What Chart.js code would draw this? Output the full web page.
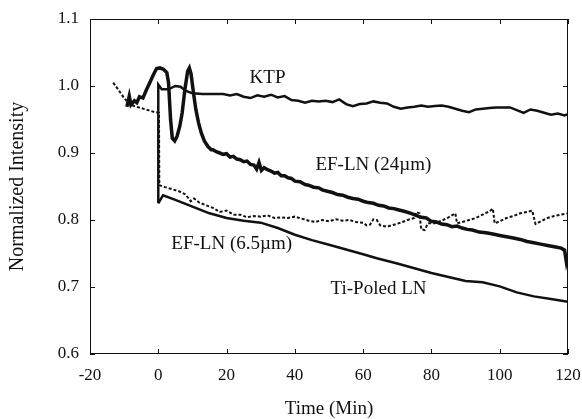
<!DOCTYPE html>
<html>
<head>
<meta charset="utf-8">
<script src="https://cdn.jsdelivr.net/npm/chart.js@4/dist/chart.umd.min.js"></script>
<style>
html,body{margin:0;padding:0;background:#fff;}
#wrap{width:582px;height:419px;position:relative;}
</style>
</head>
<body>
<div id="wrap"><canvas id="c"></canvas></div>
<script>
// ---- Data ----
const xTicks = [-20, 0, 20, 40, 60, 80, 100, 120];
const yTicks = [0.6, 0.7, 0.8, 0.9, 1.0, 1.1];

const ktpX = [0, 0, 1, 3, 5, 6.5, 8, 10, 13, 16, 19, 21, 23, 25, 27, 29, 31, 33, 35, 37, 39, 41, 43, 45, 47, 49, 51, 53, 55, 57, 59, 61, 63, 65, 67, 69, 71, 73, 75, 77, 79, 81, 83, 85, 87, 89, 91, 93, 95, 97, 99, 101, 103, 105, 107, 109, 111, 113, 115, 117, 119, 120];
const ktpY = [0.825, 1.002, 0.995, 0.995, 1.000, 0.999, 0.993, 0.989, 0.988, 0.988, 0.988, 0.986, 0.988, 0.984, 0.982, 0.986, 0.984, 0.987, 0.983, 0.985, 0.979, 0.978, 0.975, 0.978, 0.977, 0.978, 0.976, 0.980, 0.973, 0.970, 0.973, 0.974, 0.977, 0.975, 0.974, 0.969, 0.966, 0.968, 0.969, 0.971, 0.969, 0.970, 0.971, 0.969, 0.966, 0.963, 0.961, 0.965, 0.966, 0.967, 0.968, 0.968, 0.968, 0.964, 0.960, 0.965, 0.963, 0.960, 0.957, 0.959, 0.956, 0.958];

const ef24X = [-9.2, -8.5, -8, -7, -6.3, -5.5, -4.5, -3.5, -2.5, -1.5, -0.5, 0.5, 1.5, 2.5, 3, 3.6, 4.1, 4.8, 5.5, 6.3, 7, 7.8, 8.6, 9.1, 9.6, 10.3, 11, 11.8, 12.6, 13.5, 14.5, 15.5, 16, 17, 18, 19, 20, 21, 22, 23, 24, 25, 26, 27, 28, 28.8, 29.5, 30.2, 31, 32, 33, 34, 35, 36, 37, 38, 39, 40, 41.5, 43, 44, 45.5, 47, 48, 49.5, 51, 52.5, 54, 55.5, 57, 58.5, 60, 61.5, 63, 64.5, 66, 67.5, 69, 70.5, 72, 74, 75.5, 77, 78.5, 80, 81.5, 83, 84.5, 86, 87.5, 89, 90.5, 92, 94, 96, 98, 100, 102, 104, 106, 108, 110, 112, 114, 116, 118, 119, 119.5, 120];
const ef24Y = [0.969, 0.985, 0.972, 0.978, 0.975, 0.984, 0.982, 0.994, 1.005, 1.016, 1.026, 1.027, 1.025, 1.020, 1.005, 0.950, 0.922, 0.918, 0.925, 0.940, 0.960, 0.995, 1.022, 1.027, 1.018, 0.990, 0.965, 0.945, 0.930, 0.918, 0.910, 0.905, 0.905, 0.902, 0.900, 0.898, 0.899, 0.894, 0.895, 0.891, 0.890, 0.887, 0.888, 0.883, 0.882, 0.876, 0.886, 0.874, 0.878, 0.875, 0.873, 0.870, 0.871, 0.866, 0.866, 0.863, 0.862, 0.858, 0.857, 0.853, 0.852, 0.849, 0.848, 0.845, 0.843, 0.841, 0.838, 0.837, 0.834, 0.832, 0.831, 0.828, 0.826, 0.825, 0.822, 0.821, 0.818, 0.817, 0.815, 0.813, 0.810, 0.807, 0.804, 0.803, 0.798, 0.797, 0.794, 0.793, 0.790, 0.791, 0.788, 0.786, 0.785, 0.782, 0.781, 0.779, 0.777, 0.775, 0.773, 0.771, 0.768, 0.766, 0.764, 0.762, 0.760, 0.758, 0.755, 0.738, 0.750];

const ef65X = [-13.2, -11.5, -10, -8.5, -7, -5, -3, -1, 0.2, 0.3, 2, 4, 6, 8, 9.5, 10.5, 12, 14, 16, 18, 20, 22, 24, 26, 28, 30, 32, 34, 36, 38, 40, 42, 44, 46, 48, 50, 52, 54, 56, 58, 60, 61, 62, 63, 64, 65, 67, 69, 71, 73, 75, 75.5, 76.5, 77, 78, 79, 81, 83, 85, 87, 87.5, 89, 91, 93, 95, 97, 98, 98.5, 100, 102, 104, 106, 108, 109.5, 110.5, 112, 114, 116, 118, 120];
const ef65Y = [1.005, 0.993, 0.982, 0.973, 0.970, 0.967, 0.964, 0.961, 0.960, 0.852, 0.849, 0.846, 0.843, 0.838, 0.828, 0.832, 0.826, 0.822, 0.818, 0.812, 0.814, 0.808, 0.808, 0.804, 0.806, 0.805, 0.807, 0.803, 0.804, 0.803, 0.805, 0.802, 0.799, 0.797, 0.800, 0.798, 0.801, 0.799, 0.800, 0.797, 0.796, 0.792, 0.793, 0.801, 0.800, 0.792, 0.790, 0.793, 0.796, 0.800, 0.803, 0.812, 0.810, 0.786, 0.785, 0.795, 0.795, 0.799, 0.804, 0.810, 0.795, 0.797, 0.800, 0.803, 0.808, 0.813, 0.817, 0.795, 0.798, 0.803, 0.806, 0.810, 0.812, 0.814, 0.794, 0.798, 0.803, 0.806, 0.808, 0.810];

const tiX = [0, 1.4, 5, 10, 15, 20, 25, 30, 35, 40, 45, 50, 55, 60, 64, 70, 75, 80, 85, 90, 95, 100, 105, 110, 115, 120];
const tiY = [0.825, 0.837, 0.830, 0.820, 0.810, 0.803, 0.799, 0.796, 0.788, 0.778, 0.770, 0.763, 0.756, 0.749, 0.743, 0.735, 0.728, 0.721, 0.715, 0.709, 0.707, 0.701, 0.692, 0.686, 0.682, 0.678];

const labels = ["KTP", "EF-LN (24\u00b5m)", "EF-LN (6.5\u00b5m)", "Ti-Poled LN"];
const labelPosX = [32, 63, 21.5, 64.5];
const labelPosY = [1.012, 0.882, 0.764, 0.697];

// ---- Build chart ----
const pts = (xs, ys) => xs.map((x, i) => ({x: x, y: ys[i]}));
const FONT = "'Liberation Serif', 'Times New Roman', serif";

const framePlugin = {
  id: 'frame',
  afterDatasetsDraw(chart) {
    const {ctx, chartArea: a, scales: {x, y}} = chart;
    ctx.save();
    ctx.strokeStyle = '#111';
    ctx.lineWidth = 1;
    ctx.strokeRect(a.left + 0.5, a.top + 0.5, a.right - a.left - 1, a.bottom - a.top - 1);
    ctx.beginPath();
    const L = 5;
    xTicks.forEach(v => {
      const px = Math.round(x.getPixelForValue(v)) + 0.5;
      ctx.moveTo(px, a.bottom); ctx.lineTo(px, a.bottom - L);
      ctx.moveTo(px, a.top); ctx.lineTo(px, a.top + L);
    });
    yTicks.forEach(v => {
      const py = Math.round(y.getPixelForValue(v)) + 0.5;
      ctx.moveTo(a.left, py); ctx.lineTo(a.left + L, py);
      ctx.moveTo(a.right, py); ctx.lineTo(a.right - L, py);
    });
    ctx.stroke();
    ctx.fillStyle = '#111';
    ctx.font = "19px " + FONT;
    ctx.textAlign = 'center';
    ctx.textBaseline = 'middle';
    labels.forEach((t, i) => {
      ctx.fillText(t, x.getPixelForValue(labelPosX[i]), y.getPixelForValue(labelPosY[i]));
    });
    ctx.restore();
  }
};

const common = {pointRadius: 0, tension: 0, borderColor: '#111', fill: false};

new Chart(document.getElementById('c'), {
  type: 'line',
  data: {
    datasets: [
      Object.assign({label: 'KTP', data: pts(ktpX, ktpY), borderWidth: 2.5}, common),
      Object.assign({label: 'EF-LN (24um)', data: pts(ef24X, ef24Y), borderWidth: 3.5}, common),
      Object.assign({label: 'EF-LN (6.5um)', data: pts(ef65X, ef65Y), borderWidth: 2, borderDash: [3, 2]}, common),
      Object.assign({label: 'Ti-Poled LN', data: pts(tiX, tiY), borderWidth: 2.5}, common)
    ]
  },
  options: {
    responsive: true,
    maintainAspectRatio: false,
    animation: false,
    layout: {padding: {top: 19, right: 14, left: 0, bottom: 0}},
    plugins: {legend: {display: false}, tooltip: {enabled: false}},
    scales: {
      x: {
        type: 'linear', min: -20, max: 120,
        afterBuildTicks: s => { s.ticks = xTicks.map(v => ({value: v})); },
        afterFit: s => { s.height = 65; s.paddingLeft = 0; s.paddingRight = 0; },
        grid: {display: false, drawTicks: false},
        border: {display: false},
        ticks: {padding: 11, color: '#111', font: {family: FONT, size: 17}, maxRotation: 0, autoSkip: false},
        title: {display: true, text: 'Time (Min)', color: '#111', font: {family: FONT, size: 19, lineHeight: 1.0}, padding: 0}
      },
      y: {
        type: 'linear', min: 0.6, max: 1.1,
        afterBuildTicks: s => { s.ticks = yTicks.map(v => ({value: v})); },
        afterFit: s => { s.width = 90; s.paddingTop = 0; s.paddingBottom = 0; },
        grid: {display: false, drawTicks: false},
        border: {display: false},
        ticks: {padding: 11, color: '#111', font: {family: FONT, size: 17}, callback: v => Number(v).toFixed(1)},
        title: {display: true, text: 'Normalized Intensity', color: '#111', font: {family: FONT, size: 20, lineHeight: 1.0}, padding: {top: 8}}
      }
    }
  },
  plugins: [framePlugin]
});
</script>
</body>
</html>
